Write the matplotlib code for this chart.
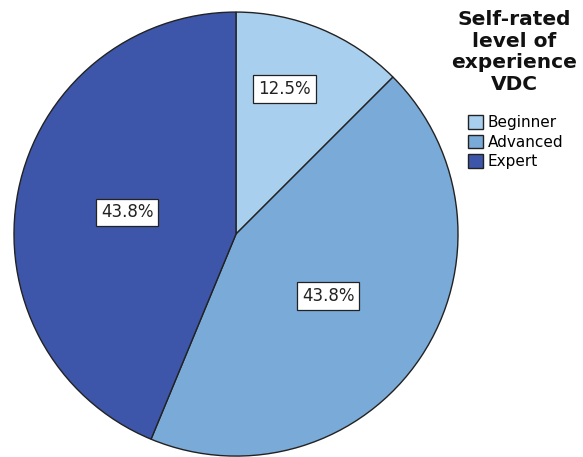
import matplotlib.pyplot as plt
import numpy as np

# data
categories = ["Beginner", "Advanced", "Expert"]
counts = [2, 7, 7]
colors = ["#a9cfee", "#7aaad7", "#3d56aa"]
label_dist = [0.69, 0.5, 0.5]

fig = plt.figure(figsize=(5.83, 4.57), dpi=100)
ax = fig.add_axes([0.024, 0.002, 0.7616, 0.9716])

wedges, texts, autotexts = ax.pie(
    counts, colors=colors, startangle=90, counterclock=False,
    autopct="%1.1f%%", pctdistance=0.5,
    wedgeprops=dict(edgecolor="#222222", linewidth=1.0),
    textprops=dict(fontsize=12, color="#222222"),
)

# move percentage labels to their own radii
for w, t, d in zip(wedges, autotexts, label_dist):
    mid = np.deg2rad((w.theta1 + w.theta2) / 2)
    if d > 0.6:
        mid += np.deg2rad(4)
    t.set_position((d * np.cos(mid), d * np.sin(mid)))
    t.set_bbox(dict(facecolor="white", edgecolor="#222222", linewidth=0.9, pad=3.5))

ax.set_xlim(-1.0, 1.0)
ax.set_ylim(-1.0, 1.0)
ax.set_aspect("auto")

fig.text(0.882, 0.978, "Self-rated\nlevel of\nexperience\nVDC", ha="center", va="top",
         fontsize=14.5, fontweight="bold", linespacing=1.18, color="#111111")

leg = fig.legend(wedges, categories, loc="upper left", bbox_to_anchor=(0.792, 0.762),
                 frameon=False, fontsize=11, handlelength=1.0, handleheight=1.0,
                 handletextpad=0.3, labelspacing=0.3, borderaxespad=0)

fig.savefig("out.png", dpi=100)
